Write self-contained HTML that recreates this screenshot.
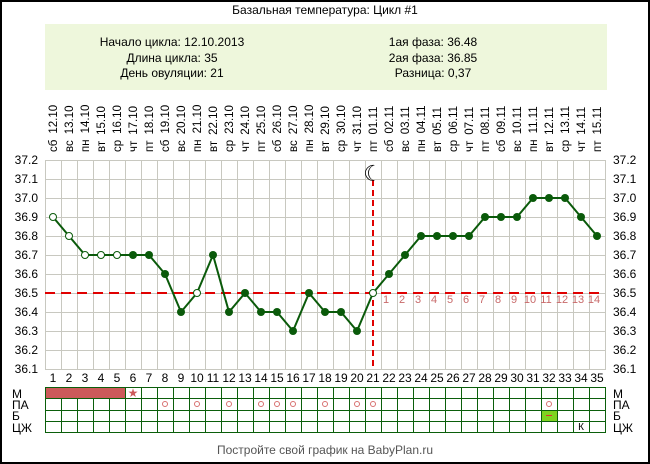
<!DOCTYPE html>
<html><head><meta charset="utf-8"><style>
body{margin:0;background:#fff}
svg{display:block;font-family:"Liberation Sans",sans-serif}
</style></head><body>
<svg width="650" height="464" viewBox="0 0 650 464" xmlns="http://www.w3.org/2000/svg">
<rect x="1" y="1" width="648" height="462" fill="#fff" stroke="#000" stroke-width="2"/>
<text x="325" y="14" font-size="12" text-anchor="middle" fill="#000">Базальная температура: Цикл #1</text>
<rect x="45" y="24" width="562" height="66" fill="#eef7dc"/>
<g font-size="12" text-anchor="middle" fill="#000">
<text x="172" y="46">Начало цикла: 12.10.2013</text>
<text x="172" y="62">Длина цикла: 35</text>
<text x="172" y="77">День овуляции: 21</text>
<text x="433" y="46">1ая фаза: 36.48</text>
<text x="433" y="62">2ая фаза: 36.85</text>
<text x="433" y="77">Разница: 0,37</text>
</g>
<g font-size="11.5" fill="#000">
<text transform="translate(57,152) rotate(-90)">сб<tspan dx="6">12.10</tspan></text>
<text transform="translate(73,152) rotate(-90)">вс<tspan dx="6">13.10</tspan></text>
<text transform="translate(89,152) rotate(-90)">пн<tspan dx="6">14.10</tspan></text>
<text transform="translate(105,152) rotate(-90)">вт<tspan dx="6">15.10</tspan></text>
<text transform="translate(121,152) rotate(-90)">ср<tspan dx="6">16.10</tspan></text>
<text transform="translate(137,152) rotate(-90)">чт<tspan dx="6">17.10</tspan></text>
<text transform="translate(153,152) rotate(-90)">пт<tspan dx="6">18.10</tspan></text>
<text transform="translate(169,152) rotate(-90)">сб<tspan dx="6">19.10</tspan></text>
<text transform="translate(185,152) rotate(-90)">вс<tspan dx="6">20.10</tspan></text>
<text transform="translate(201,152) rotate(-90)">пн<tspan dx="6">21.10</tspan></text>
<text transform="translate(217,152) rotate(-90)">вт<tspan dx="6">22.10</tspan></text>
<text transform="translate(233,152) rotate(-90)">ср<tspan dx="6">23.10</tspan></text>
<text transform="translate(249,152) rotate(-90)">чт<tspan dx="6">24.10</tspan></text>
<text transform="translate(265,152) rotate(-90)">пт<tspan dx="6">25.10</tspan></text>
<text transform="translate(281,152) rotate(-90)">сб<tspan dx="6">26.10</tspan></text>
<text transform="translate(297,152) rotate(-90)">вс<tspan dx="6">27.10</tspan></text>
<text transform="translate(313,152) rotate(-90)">пн<tspan dx="6">28.10</tspan></text>
<text transform="translate(329,152) rotate(-90)">вт<tspan dx="6">29.10</tspan></text>
<text transform="translate(345,152) rotate(-90)">ср<tspan dx="6">30.10</tspan></text>
<text transform="translate(361,152) rotate(-90)">чт<tspan dx="6">31.10</tspan></text>
<text transform="translate(377,152) rotate(-90)">пт<tspan dx="6">01.11</tspan></text>
<text transform="translate(393,152) rotate(-90)">сб<tspan dx="6">02.11</tspan></text>
<text transform="translate(409,152) rotate(-90)">вс<tspan dx="6">03.11</tspan></text>
<text transform="translate(425,152) rotate(-90)">пн<tspan dx="6">04.11</tspan></text>
<text transform="translate(441,152) rotate(-90)">вт<tspan dx="6">05.11</tspan></text>
<text transform="translate(457,152) rotate(-90)">ср<tspan dx="6">06.11</tspan></text>
<text transform="translate(473,152) rotate(-90)">чт<tspan dx="6">07.11</tspan></text>
<text transform="translate(489,152) rotate(-90)">пт<tspan dx="6">08.11</tspan></text>
<text transform="translate(505,152) rotate(-90)">сб<tspan dx="6">09.11</tspan></text>
<text transform="translate(521,152) rotate(-90)">вс<tspan dx="6">10.11</tspan></text>
<text transform="translate(537,152) rotate(-90)">пн<tspan dx="6">11.11</tspan></text>
<text transform="translate(553,152) rotate(-90)">вт<tspan dx="6">12.11</tspan></text>
<text transform="translate(569,152) rotate(-90)">ср<tspan dx="6">13.11</tspan></text>
<text transform="translate(585,152) rotate(-90)">чт<tspan dx="6">14.11</tspan></text>
<text transform="translate(601,152) rotate(-90)">пт<tspan dx="6">15.11</tspan></text>
</g>
<g stroke="#c8c8c0" stroke-width="1">
<path d="M45 160.5H605M45 179.5H605M45 198.5H605M45 217.5H605M45 236.5H605M45 255.5H605M45 274.5H605M45 293.5H605M45 312.5H605M45 331.5H605M45 350.5H605M45 369.5H605"/>
<path d="M45.5 160V370M61.5 160V370M77.5 160V370M93.5 160V370M109.5 160V370M125.5 160V370M141.5 160V370M157.5 160V370M173.5 160V370M189.5 160V370M205.5 160V370M221.5 160V370M237.5 160V370M253.5 160V370M269.5 160V370M285.5 160V370M301.5 160V370M317.5 160V370M333.5 160V370M349.5 160V370M365.5 160V370M381.5 160V370M397.5 160V370M413.5 160V370M429.5 160V370M445.5 160V370M461.5 160V370M477.5 160V370M493.5 160V370M509.5 160V370M525.5 160V370M541.5 160V370M557.5 160V370M573.5 160V370M589.5 160V370M605.5 160V370"/>
</g>
<g font-size="12" fill="#000">
<g text-anchor="end">
<text x="38" y="164">37.2</text><text x="38" y="183">37.1</text><text x="38" y="202">37.0</text><text x="38" y="221">36.9</text><text x="38" y="240">36.8</text><text x="38" y="259">36.7</text><text x="38" y="278">36.6</text><text x="38" y="297">36.5</text><text x="38" y="316">36.4</text><text x="38" y="335">36.3</text><text x="38" y="354">36.2</text><text x="38" y="373">36.1</text>
</g>
<text x="613" y="164">37.2</text><text x="613" y="183">37.1</text><text x="613" y="202">37.0</text><text x="613" y="221">36.9</text><text x="613" y="240">36.8</text><text x="613" y="259">36.7</text><text x="613" y="278">36.6</text><text x="613" y="297">36.5</text><text x="613" y="316">36.4</text><text x="613" y="335">36.3</text><text x="613" y="354">36.2</text><text x="613" y="373">36.1</text>
</g>
<path d="M45 293H605" stroke="#e00000" stroke-width="2" stroke-dasharray="10,6"/>
<path d="M373 180V370" stroke="#e00000" stroke-width="2" stroke-dasharray="6,4"/>
<text x="373" y="181" font-size="22" font-weight="bold" text-anchor="middle" fill="#000" font-family="DejaVu Sans">☾</text>
<g font-size="11" fill="#c86a6a" text-anchor="middle">
<text x="386" y="303">1</text><text x="402" y="303">2</text><text x="418" y="303">3</text><text x="434" y="303">4</text><text x="450" y="303">5</text><text x="466" y="303">6</text><text x="482" y="303">7</text><text x="498" y="303">8</text><text x="514" y="303">9</text><text x="530" y="303">10</text><text x="546" y="303">11</text><text x="562" y="303">12</text><text x="578" y="303">13</text><text x="594" y="303">14</text>
</g>
<polyline fill="none" stroke="#0a5a0a" stroke-width="2" points="53,217 69,236 85,255 101,255 117,255 133,255 149,255 165,274 181,312 197,293 213,255 229,312 245,293 261,312 277,312 293,331 309,293 325,312 341,312 357,331 373,293 389,274 405,255 421,236 437,236 453,236 469,236 485,217 501,217 517,217 533,198 549,198 565,198 581,217 597,236"/>
<g fill="#fff" stroke="#0a5a0a" stroke-width="1">
<circle cx="53" cy="217" r="3.5"/><circle cx="69" cy="236" r="3.5"/><circle cx="85" cy="255" r="3.5"/><circle cx="101" cy="255" r="3.5"/><circle cx="117" cy="255" r="3.5"/><circle cx="197" cy="293" r="3.5"/><circle cx="373" cy="293" r="3.5"/>
</g>
<g fill="#0a5a0a">
<circle cx="133" cy="255" r="4"/><circle cx="149" cy="255" r="4"/><circle cx="165" cy="274" r="4"/><circle cx="181" cy="312" r="4"/><circle cx="213" cy="255" r="4"/><circle cx="229" cy="312" r="4"/><circle cx="245" cy="293" r="4"/><circle cx="261" cy="312" r="4"/><circle cx="277" cy="312" r="4"/><circle cx="293" cy="331" r="4"/><circle cx="309" cy="293" r="4"/><circle cx="325" cy="312" r="4"/><circle cx="341" cy="312" r="4"/><circle cx="357" cy="331" r="4"/><circle cx="389" cy="274" r="4"/><circle cx="405" cy="255" r="4"/><circle cx="421" cy="236" r="4"/><circle cx="437" cy="236" r="4"/><circle cx="453" cy="236" r="4"/><circle cx="469" cy="236" r="4"/><circle cx="485" cy="217" r="4"/><circle cx="501" cy="217" r="4"/><circle cx="517" cy="217" r="4"/><circle cx="533" cy="198" r="4"/><circle cx="549" cy="198" r="4"/><circle cx="565" cy="198" r="4"/><circle cx="581" cy="217" r="4"/><circle cx="597" cy="236" r="4"/>
</g>
<g font-size="12" fill="#000" text-anchor="middle">
<text x="53" y="382">1</text><text x="69" y="382">2</text><text x="85" y="382">3</text><text x="101" y="382">4</text><text x="117" y="382">5</text><text x="133" y="382">6</text><text x="149" y="382">7</text><text x="165" y="382">8</text><text x="181" y="382">9</text><text x="197" y="382">10</text><text x="213" y="382">11</text><text x="229" y="382">12</text><text x="245" y="382">13</text><text x="261" y="382">14</text><text x="277" y="382">15</text><text x="293" y="382">16</text><text x="309" y="382">17</text><text x="325" y="382">18</text><text x="341" y="382">19</text><text x="357" y="382">20</text><text x="373" y="382">21</text><text x="389" y="382">22</text><text x="405" y="382">23</text><text x="421" y="382">24</text><text x="437" y="382">25</text><text x="453" y="382">26</text><text x="469" y="382">27</text><text x="485" y="382">28</text><text x="501" y="382">29</text><text x="517" y="382">30</text><text x="533" y="382">31</text><text x="549" y="382">32</text><text x="565" y="382">33</text><text x="581" y="382">34</text><text x="597" y="382">35</text>
</g>
<rect x="45" y="387" width="80" height="11" fill="#cc5a5a"/>
<rect x="541" y="410" width="16" height="11" fill="#7ed321"/>
<path d="M546 415.5H552" stroke="#e03030" stroke-width="1"/>
<g stroke="#0b5e0b" stroke-width="1" fill="none">
<path d="M45 387.5H605M45 398.5H605M45 410.5H605M45 421.5H605M45 432.5H605"/>
<path d="M45.5 387V433M61.5 398V433M77.5 398V433M93.5 398V433M109.5 398V433M125.5 387V433M141.5 387V433M157.5 387V433M173.5 387V433M189.5 387V433M205.5 387V433M221.5 387V433M237.5 387V433M253.5 387V433M269.5 387V433M285.5 387V433M301.5 387V433M317.5 387V433M333.5 387V433M349.5 387V433M365.5 387V433M381.5 387V433M397.5 387V433M413.5 387V433M429.5 387V433M445.5 387V433M461.5 387V433M477.5 387V433M493.5 387V433M509.5 387V433M525.5 387V433M541.5 387V433M557.5 387V433M573.5 387V433M589.5 387V433M605.5 387V433"/>
</g>
<text x="133" y="397" font-size="12" fill="#cc5a5a" text-anchor="middle" font-family="DejaVu Sans">★</text>
<g fill="none" stroke="#d87070" stroke-width="1">
<circle cx="165" cy="404" r="2.5"/><circle cx="197" cy="404" r="2.5"/><circle cx="229" cy="404" r="2.5"/><circle cx="261" cy="404" r="2.5"/><circle cx="277" cy="404" r="2.5"/><circle cx="293" cy="404" r="2.5"/><circle cx="325" cy="404" r="2.5"/><circle cx="357" cy="404" r="2.5"/><circle cx="373" cy="404" r="2.5"/><circle cx="549" cy="404" r="2.5"/>
</g>
<text x="581" y="430" font-size="10" fill="#000" text-anchor="middle">К</text>
<g font-size="12" fill="#000">
<text x="12" y="398">М</text><text x="12" y="409">ПА</text><text x="12" y="420">Б</text><text x="12" y="432">ЦЖ</text>
<text x="613" y="398">М</text><text x="613" y="409">ПА</text><text x="613" y="420">Б</text><text x="613" y="432">ЦЖ</text>
</g>
<text x="325" y="454" font-size="12" fill="#555" text-anchor="middle">Постройте свой график на BabyPlan.ru</text>
</svg>
</body></html>
